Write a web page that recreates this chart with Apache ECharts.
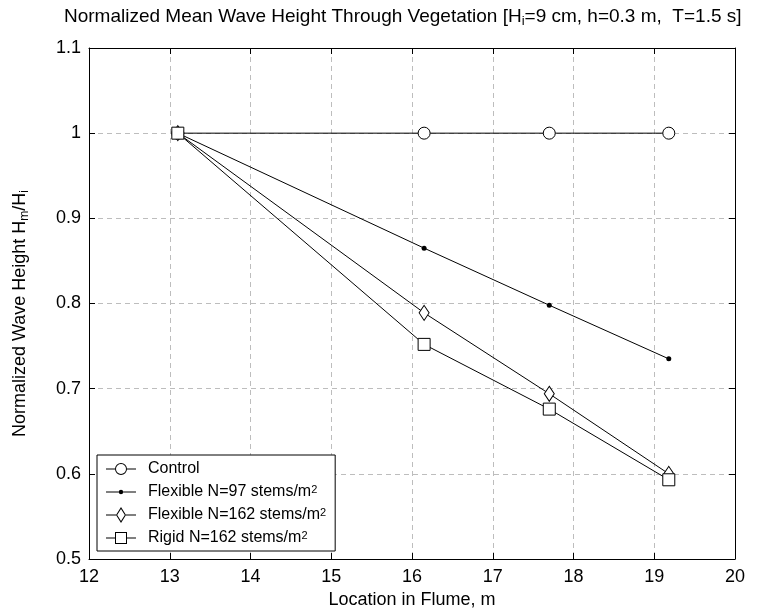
<!DOCTYPE html>
<html>
<head>
<meta charset="utf-8">
<script src="https://cdn.jsdelivr.net/npm/echarts@6/dist/echarts.min.js"></script>
<style>
html,body{margin:0;padding:0;background:#fff;}
#chart{width:759px;height:615px;}
</style>
</head>
<body>
<div id="chart"></div>
<script>
// ---- data ----
var locations = [13.1, 16.15, 17.7, 19.18];
var controlVals = [1.0, 1.0, 1.0, 1.0];
var flex97Vals = [1.0, 0.865, 0.798, 0.735];
var flex162Vals = [1.0, 0.789, 0.694, 0.600];
var rigidVals = [1.0, 0.752, 0.676, 0.593];
var seriesNames = ['Control', 'Flexible N=97 stems/m2', 'Flexible N=162 stems/m2', 'Rigid N=162 stems/m2'];
var xTicks = [12, 13, 14, 15, 16, 17, 18, 19, 20];
var yTicks = [0.5, 0.6, 0.7, 0.8, 0.9, 1.0, 1.1];

function pairs(ys) { return locations.map(function (x, i) { return [x, ys[i]]; }); }

var FONT = '"Liberation Sans", Arial, Helvetica, sans-serif';

// legend icons: line + marker outline (paths, 30 wide)
var iconCircle = 'path://M0 7.5H9V8.5H0Z M21 7.5H30V8.5H21Z M21 8A6 6 0 1 1 9 8A6 6 0 1 1 21 8Z M20 8A5 5 0 1 0 10 8A5 5 0 1 0 20 8Z M0 2H0.01V2.01H0Z M0 14H0.01V14.01H0Z';
var iconDot = 'path://M0 7.5H13V8.5H0Z M17 7.5H30V8.5H17Z M17.2 8A2.2 2.2 0 1 1 12.8 8A2.2 2.2 0 1 1 17.2 8Z M0 0H0.01V0.01H0Z M0 16H0.01V16.01H0Z';
var iconDiamond = 'path://M0 7.5H10V8.5H0Z M20 7.5H30V8.5H20Z M15 0L20 8L15 16L10 8Z M15 1.9L11.2 8L15 14.1L18.8 8Z';
var iconRect = 'path://M0 7.5H9V8.5H0Z M21 7.5H30V8.5H21Z M9 2H21V14H9Z M10 3V13H20V3Z M0 0H0.01V0.01H0Z M0 16H0.01V16.01H0Z';

var chart = echarts.init(document.getElementById('chart'), null, {renderer: 'canvas'});

var axisLineStyle = {color: '#000', width: 1};
var gridLine = {show: true, lineStyle: {color: '#bdbdbd', width: 1, type: [5, 4]}};

var option = {
  animation: false,
  backgroundColor: '#fff',
  title: {
    text: 'Normalized Mean Wave Height Through Vegetation [H{sub|i}=9 cm, h=0.3 m,  T=1.5 s]',
    left: 64,
    top: 5,
    padding: 0,
    textStyle: {
      fontFamily: FONT, fontSize: 19, fontWeight: 'normal', color: '#000',
      rich: {
        sub: {fontFamily: FONT, fontSize: 13, color: '#000', verticalAlign: 'bottom', padding: [10, 0, 0, 0]}
      }
    }
  },
  grid: {left: 89, right: 24, top: 48, bottom: 56, containLabel: false},
  legend: {
    orient: 'vertical',
    left: 97,
    top: 455,
    padding: [6, 9, 5, 9],
    itemGap: 7,
    itemWidth: 30,
    itemHeight: 16,
    borderColor: '#000',
    borderWidth: 1,
    backgroundColor: '#fff',
    borderRadius: 0,
    selectedMode: false,
    itemStyle: {color: '#000', borderWidth: 0},
    data: [
      {name: seriesNames[0], icon: iconCircle},
      {name: seriesNames[1], icon: iconDot},
      {name: seriesNames[2], icon: iconDiamond},
      {name: seriesNames[3], icon: iconRect}
    ],
    formatter: function (name) { return name.replace(/m2$/, 'm{sup|2}'); },
    textStyle: {
      fontFamily: FONT, fontSize: 16, lineHeight: 16, color: '#000', padding: [0, 0, 0, 7],
      rich: {
        sup: {fontFamily: FONT, fontSize: 11, lineHeight: 9, color: '#000', verticalAlign: 'top', padding: 0}
      }
    }
  },
  xAxis: [
    {
      type: 'value', position: 'bottom', min: 12, max: 20, interval: 1,
      name: 'Location in Flume, m', nameLocation: 'middle', nameGap: 31,
      nameTextStyle: {fontFamily: FONT, fontSize: 18, color: '#000'},
      axisLine: {show: true, onZero: false, lineStyle: axisLineStyle},
      axisTick: {show: true, inside: true, length: 6, lineStyle: axisLineStyle},
      axisLabel: {show: true, margin: 9, fontFamily: FONT, fontSize: 18, color: '#000',
        formatter: function (v) { return xTicks.indexOf(v) >= 0 ? String(v) : ''; }},
      splitLine: gridLine
    },
    {
      type: 'value', position: 'top', min: 12, max: 20, interval: 1,
      axisLine: {show: true, onZero: false, lineStyle: axisLineStyle},
      axisTick: {show: true, inside: true, length: 6, lineStyle: axisLineStyle},
      axisLabel: {show: false},
      splitLine: {show: false}
    }
  ],
  yAxis: [
    {
      type: 'value', position: 'left', min: 0.5, max: 1.1, interval: 0.1,
      name: 'Normalized Wave Height H{sub|m}/H{sub|i}', nameLocation: 'middle', nameGap: 58,
      nameTextStyle: {fontFamily: FONT, fontSize: 18, color: '#000', padding: [0, 20, 0, 0],
        rich: {sub: {fontFamily: FONT, fontSize: 12, color: '#000', verticalAlign: 'bottom', padding: [10, 0, 0, 0]}}},
      axisLine: {show: true, onZero: false, lineStyle: axisLineStyle},
      axisTick: {show: true, inside: true, length: 6, lineStyle: axisLineStyle},
      axisLabel: {show: true, margin: 8, fontFamily: FONT, fontSize: 18, color: '#000',
        formatter: function (v) { return String(+v.toFixed(1)); }},
      splitLine: gridLine
    },
    {
      type: 'value', position: 'right', min: 0.5, max: 1.1, interval: 0.1,
      axisLine: {show: true, onZero: false, lineStyle: axisLineStyle},
      axisTick: {show: true, inside: true, length: 6, lineStyle: axisLineStyle},
      axisLabel: {show: false},
      splitLine: {show: false}
    }
  ],
  series: [
    {
      name: seriesNames[0], type: 'line', data: pairs(controlVals),
      symbol: 'circle', symbolSize: 12, color: '#000',
      lineStyle: {color: '#000', width: 1},
      itemStyle: {color: '#fff', borderColor: '#000', borderWidth: 1}
    },
    {
      name: seriesNames[1], type: 'line', data: pairs(flex97Vals),
      symbol: 'circle', symbolSize: 5, color: '#000',
      lineStyle: {color: '#000', width: 1},
      itemStyle: {color: '#000', borderColor: '#000', borderWidth: 0}
    },
    {
      name: seriesNames[2], type: 'line', data: pairs(flex162Vals),
      symbol: 'diamond', symbolSize: [10, 15], color: '#000',
      lineStyle: {color: '#000', width: 1},
      itemStyle: {color: '#fff', borderColor: '#000', borderWidth: 1}
    },
    {
      name: seriesNames[3], type: 'line', data: pairs(rigidVals),
      symbol: 'rect', symbolSize: 12, color: '#000',
      lineStyle: {color: '#000', width: 1},
      itemStyle: {color: '#fff', borderColor: '#000', borderWidth: 1}
    }
  ]
};
chart.setOption(option);
</script>
</body>
</html>
